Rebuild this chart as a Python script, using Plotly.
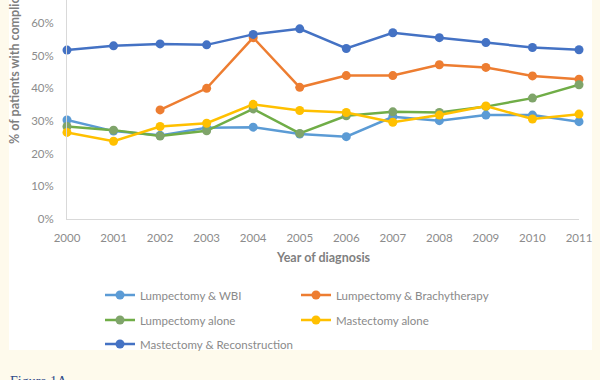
import plotly.graph_objects as go

years = [2000, 2001, 2002, 2003, 2004, 2005, 2006, 2007, 2008, 2009, 2010, 2011]
lump_wbi = [30.3, 26.9, 25.6, 27.9, 28.1, 26.0, 25.2, 31.3, 30.1, 31.8, 31.8, 29.8]
lump_brachy = [None, None, 33.4, 40.0, 55.5, 40.3, 43.9, 43.9, 47.2, 46.4, 43.8, 42.8]
lump_alone = [28.3, 27.2, 25.4, 27.0, 33.7, 26.2, 31.6, 32.8, 32.6, 34.4, 37.0, 41.1]
mast_alone = [26.5, 23.8, 28.3, 29.3, 35.1, 33.2, 32.6, 29.6, 31.8, 34.6, 30.6, 32.1]
mast_recon = [51.7, 53.0, 53.6, 53.3, 56.5, 58.2, 52.2, 57.0, 55.5, 54.0, 52.5, 51.8]
y_ticks = [0, 10, 20, 30, 40, 50, 60]
y_tick_labels = ["0%", "10%", "20%", "30%", "40%", "50%", "60%"]

series = [
    ("Lumpectomy & WBI", lump_wbi, "#5B9BD5", "#5B9BD5", "legend"),
    ("Lumpectomy & Brachytherapy", lump_brachy, "#ED7D31", "#ED7D31", "legend"),
    ("Lumpectomy alone", lump_alone, "#70AD47", "#7FA46A", "legend2"),
    ("Mastectomy alone", mast_alone, "#FFC000", "#FFC000", "legend2"),
    ("Mastectomy & Reconstruction", mast_recon, "#4472C4", "#4472C4", "legend3"),
]

FONT = "Lato"
fig = go.Figure()
for name, vals, col, mcol, lg in series:
    fig.add_trace(go.Scatter(
        x=years, y=vals, name=name, mode="lines+markers",
        line=dict(color=col, width=2.5),
        marker=dict(color=mcol, size=9),
        cliponaxis=False, legend=lg, connectgaps=False,
    ))

# pixel helpers (plot area: x 67..579, y 0..219)
def px(xp):
    return (xp - 67) / 512.0

def py(yp):
    return (219 - yp) / 219.0

legend_common = dict(orientation="h", xanchor="left", yanchor="middle",
                     bgcolor="rgba(0,0,0,0)", entrywidth=151,
                     font=dict(family=FONT, size=11.5, color="#8A8A8A"))

fig.update_layout(
    width=600, height=380,
    margin=dict(l=67, r=21, t=0, b=161),
    paper_bgcolor="#FEFAEC",
    plot_bgcolor="white",
    showlegend=True,
    legend=dict(x=px(100), y=py(295), **legend_common),
    legend2=dict(x=px(100), y=py(320), **legend_common),
    legend3=dict(x=px(100), y=py(344), **legend_common),
    xaxis=dict(range=[2000, 2011], tickmode="array", tickvals=years,
               showgrid=False, zeroline=False, showline=True,
               linecolor="#D9D9D9", linewidth=1, ticks="",
               ticklabelstandoff=8,
               tickfont=dict(family=FONT, size=11.5, color="#8C8C8C")),
    yaxis=dict(range=[0, 67.03], tickmode="array", tickvals=y_ticks,
               ticktext=y_tick_labels, showgrid=False, zeroline=False,
               showline=True, linecolor="#D9D9D9", linewidth=1, ticks="",
               ticklabelstandoff=10,
               tickfont=dict(family=FONT, size=11.5, color="#8C8C8C")),
    shapes=[dict(type="rect", xref="paper", yref="paper",
                 x0=px(9), x1=px(592), y0=py(350), y1=1.2,
                 fillcolor="white", line=dict(width=0), layer="below")],
    annotations=[
        dict(text="<b>Year of diagnosis</b>", xref="paper", yref="paper",
             x=0.5, y=py(257), showarrow=False, xanchor="center", yanchor="middle",
             font=dict(family=FONT, size=12.5, color="#7F7F7F")),
        dict(text="<b>% of patients with complications</b>", xref="paper", yref="paper",
             x=px(14), y=py(54), showarrow=False, textangle=-90,
             xanchor="center", yanchor="middle",
             font=dict(family=FONT, size=12.5, color="#7F7F7F")),
        dict(text="Figure 1A", xref="paper", yref="paper",
             x=px(8), y=py(372), showarrow=False, xanchor="left", yanchor="top",
             font=dict(family="Liberation Serif", size=14, color="#2F4A8A")),
    ],
)

fig.write_html(
    "out.html",
    config={"displayModeBar": False},
    post_script="document.body.style.margin='0';document.body.style.background='#FEFAEC';",
)
